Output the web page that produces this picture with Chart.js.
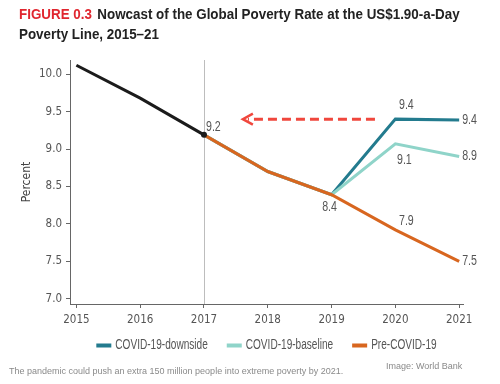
<!DOCTYPE html>
<html>
<head>
<meta charset="utf-8">
<script src="https://cdn.jsdelivr.net/npm/chart.js@4.4.1/dist/chart.umd.min.js"></script>
<style>
  html, body { margin:0; padding:0; background:#fff; }
  #wrap { position:relative; width:500px; height:384px; overflow:hidden; }
  #c { position:absolute; left:0; top:0; }
  .title { position:absolute; left:19px; font-family:"Liberation Sans",Arial,sans-serif; font-weight:bold; font-size:15px; color:#222; white-space:nowrap; line-height:18px; transform-origin:0 0; }
  .title .fig { color:#e0262f; margin-right:6px; }
  .foot { position:absolute; font-family:"Liberation Sans",Arial,sans-serif; font-size:9px; color:#8a8a8a; white-space:nowrap; }
</style>
</head>
<body>
<div id="wrap">
  <canvas id="c" width="500" height="384"></canvas>
  <div class="title" id="t1" style="top:5px;"><span class="fig">FIGURE 0.3</span>Nowcast of the Global Poverty Rate at the US$1.90-a-Day</div>
  <div class="title" id="t2" style="top:25px;">Poverty Line, 2015–21</div>
  <div class="foot" style="left:9px; top:366px;">The pandemic could push an extra 150 million people into extreme poverty by 2021.</div>
  <div class="foot" style="left:386px; top:361px;">Image: World Bank</div>
</div>
<script>
// ---- data ----
const historyYears = [2015, 2016, 2017];
const historyValues = [10.12, 9.68, 9.19];
const forecastYears = [2017, 2018, 2019, 2020, 2021];
const downsideValues = [9.19, 8.70, 8.39, 9.40, 9.39];
const baselineValues = [9.19, 8.70, 8.39, 9.07, 8.90];
const preCovidValues = [9.19, 8.70, 8.39, 7.92, 7.50];
const seriesNames = ["COVID-19-downside", "COVID-19-baseline", "Pre-COVID-19"];
const xTickYears = [2015, 2016, 2017, 2018, 2019, 2020, 2021];
const yTickValues = [7.0, 7.5, 8.0, 8.5, 9.0, 9.5, 10.0];
const valueLabels = ["9.2", "8.4", "9.4", "9.1", "7.9", "9.4", "8.9", "7.5"];
const valueLabelYears = [2017, 2019, 2020, 2020, 2020, 2021, 2021, 2021];
const valueLabelValues = [9.19, 8.39, 9.40, 9.07, 7.92, 9.39, 8.90, 7.50];
const arrowFrom = [2019.68, 9.40];
const arrowTo = [2017.61, 9.40];

// ---- title fit (condensed look) ----
(function () {
  const t1 = document.getElementById('t1'), t2 = document.getElementById('t2');
  const k = 441 / t1.scrollWidth;
  t1.style.transform = 'scaleX(' + k + ')';
  t2.style.transform = 'scaleX(' + k + ')';
})();

// ---- styles ----
const COL_DOWN = "#237b8e", COL_BASE = "#8fd4c9", COL_PRE = "#d8661f", COL_HIST = "#1b1b1b";
const COND = '"DejaVu Sans Condensed","Liberation Sans",sans-serif';
const LABEL_K = 0.76, LEGEND_K = 0.72;
const labelOffsets = [[2,-8,'left'],[-2,12,'center'],[11,-14,'center'],[9,16,'center'],[11,-9,'center'],[3,0,'left'],[3,0,'left'],[3,0,'left']];

const toXY = (xs, ys) => xs.map((x, i) => ({x: x, y: ys[i]}));

function narrowText(ctx, text, x, y, align, k) {
  const w = ctx.measureText(text).width * k;
  let left = x;
  if (align === 'center') left = x - w / 2;
  else if (align === 'right') left = x - w;
  ctx.save();
  ctx.translate(left, y);
  ctx.scale(k, 1);
  ctx.textAlign = 'left';
  ctx.fillText(text, 0, 0);
  ctx.restore();
  return w;
}

const extras = {
  id: 'extras',
  beforeDatasetsDraw(chart) {
    const {ctx, scales:{x}, chartArea} = chart;
    ctx.save();
    ctx.strokeStyle = '#bdbdbd';
    ctx.lineWidth = 1;
    const px = Math.round(x.getPixelForValue(2017)) + 0.5;
    ctx.beginPath(); ctx.moveTo(px, chartArea.top); ctx.lineTo(px, chartArea.bottom); ctx.stroke();
    ctx.restore();
  },
  afterDatasetsDraw(chart) {
    const {ctx, scales:{x, y}, chartArea} = chart;
    ctx.save();
    // arrow
    const x1 = x.getPixelForValue(arrowFrom[0]), y1 = y.getPixelForValue(arrowFrom[1]);
    const x2 = x.getPixelForValue(arrowTo[0]), y2 = y.getPixelForValue(arrowTo[1]);
    ctx.strokeStyle = '#f0473d';
    ctx.lineWidth = 3;
    ctx.setLineDash([9, 5]);
    ctx.beginPath(); ctx.moveTo(x1, y1); ctx.lineTo(x2 + 5, y2); ctx.stroke();
    ctx.setLineDash([]);
    ctx.lineWidth = 2.5;
    ctx.beginPath(); ctx.moveTo(x2 + 10, y2 - 5.5); ctx.lineTo(x2, y2); ctx.lineTo(x2 + 10, y2 + 5.5); ctx.stroke();
    // value labels
    ctx.fillStyle = '#555';
    ctx.font = '14px "Liberation Sans", Arial, sans-serif';
    ctx.textBaseline = 'middle';
    valueLabels.forEach((t, i) => {
      const o = labelOffsets[i];
      narrowText(ctx, t, x.getPixelForValue(valueLabelYears[i]) + o[0], y.getPixelForValue(valueLabelValues[i]) + o[1], o[2], LABEL_K);
    });
    // legend
    const colors = [COL_DOWN, COL_BASE, COL_PRE];
    ctx.font = '14px "Liberation Sans", Arial, sans-serif';
    const sw = 15, gapText = 4, gapItem = 19;
    const widths = seriesNames.map(n => ctx.measureText(n).width * LEGEND_K);
    const total = widths.reduce((a, w) => a + sw + gapText + w, 0) + gapItem * (seriesNames.length - 1);
    let lx = (chartArea.left + chartArea.right) / 2 - total / 2;
    const ly = 345.5;
    seriesNames.forEach((n, i) => {
      ctx.fillStyle = colors[i];
      ctx.fillRect(lx, ly - 2, sw, 4);
      ctx.fillStyle = '#555';
      narrowText(ctx, n, lx + sw + gapText, ly, 'left', LEGEND_K);
      lx += sw + gapText + widths[i] + gapItem;
    });
    ctx.restore();
  }
};

new Chart(document.getElementById('c'), {
  type: 'line',
  data: {
    datasets: [
      { label: seriesNames[0], data: toXY(forecastYears, downsideValues), borderColor: COL_DOWN, backgroundColor: COL_DOWN, borderWidth: 3, pointRadius: 0, order: 3 },
      { label: seriesNames[1], data: toXY(forecastYears, baselineValues), borderColor: COL_BASE, backgroundColor: COL_BASE, borderWidth: 3, pointRadius: 0, order: 2 },
      { label: seriesNames[2], data: toXY(forecastYears, preCovidValues), borderColor: COL_PRE, backgroundColor: COL_PRE, borderWidth: 3, pointRadius: 0, order: 1 },
      { label: 'history', data: toXY(historyYears, historyValues), borderColor: COL_HIST, backgroundColor: COL_HIST, borderWidth: 3, pointRadius: [0, 0, 3], pointBorderWidth: 0, order: 0 }
    ]
  },
  options: {
    responsive: false,
    animation: false,
    layout: { padding: { top: 60, right: 37, bottom: 50, left: 0 } },
    plugins: {
      tooltip: { enabled: false },
      legend: { display: false }
    },
    scales: {
      x: {
        type: 'linear', min: 2014.9, max: 2021.06,
        afterBuildTicks(s) { s.ticks = xTickYears.map(v => ({value: v})); },
        afterFit(s) { s.height = 30; },
        ticks: { color: '#555', font: { family: COND, size: 11.5 }, padding: 5, callback: v => String(v), maxRotation: 0 },
        grid: { display: true, drawOnChartArea: false, drawTicks: true, tickLength: 4, color: '#666' },
        border: { display: true, color: '#666' }
      },
      y: {
        min: 6.93, max: 10.19,
        afterBuildTicks(s) { s.ticks = yTickValues.map(v => ({value: v})); },
        afterFit(s) { s.width = 70; },
        ticks: { color: '#555', font: { family: COND, size: 11.5 }, padding: 4, callback: v => v.toFixed(1) },
        grid: { display: true, drawOnChartArea: false, drawTicks: true, tickLength: 4, color: '#666' },
        border: { display: true, color: '#666' },
        title: { display: true, text: 'Percent', color: '#444', font: { family: COND, size: 12 }, padding: { top: 20, bottom: 0 } }
      }
    }
  },
  plugins: [extras]
});
</script>
</body>
</html>
